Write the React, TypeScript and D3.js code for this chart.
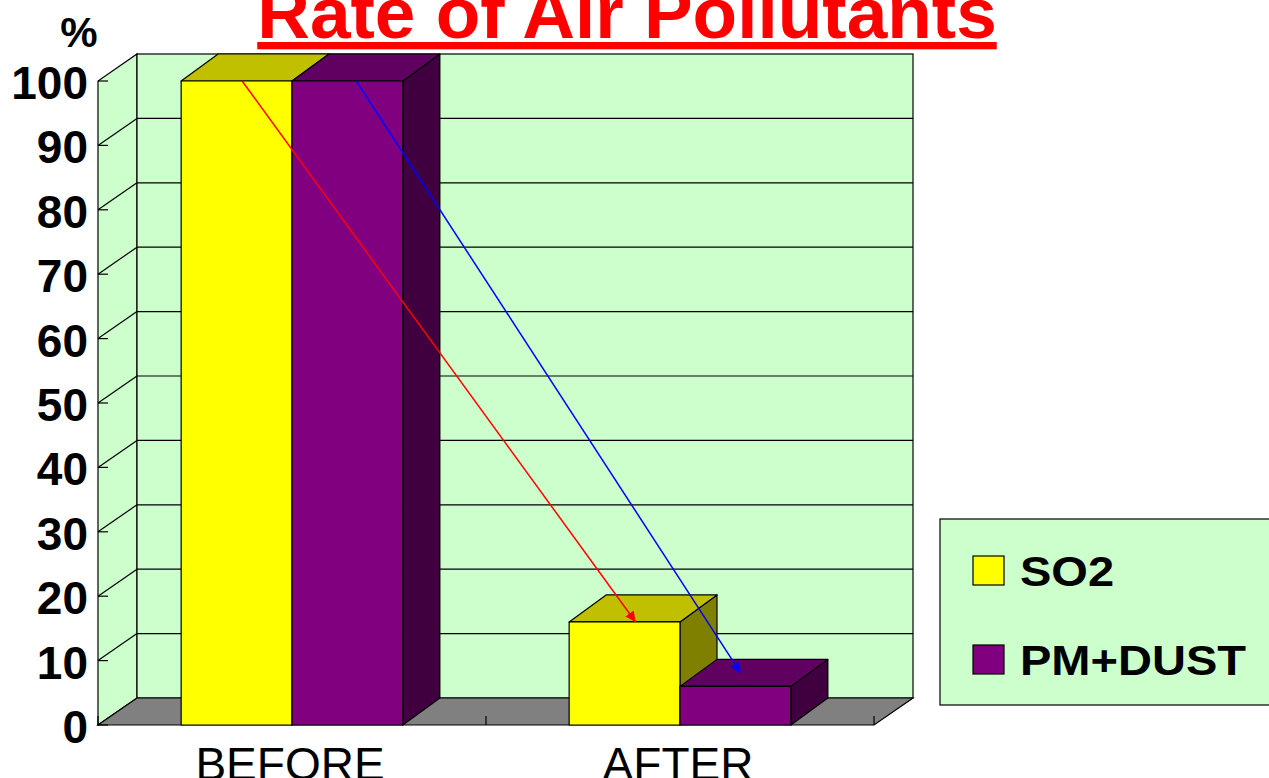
import { useEffect, useRef } from 'react'
import * as d3 from 'd3'

const categories = ['BEFORE', 'AFTER']
const seriesNames = ['SO2', 'PM+DUST']
const so2Values = [100, 16]
const dustValues = [100, 6]
const yTicks = [0, 10, 20, 30, 40, 50, 60, 70, 80, 90, 100]

const FRONT = { SO2: '#FFFF00', 'PM+DUST': '#800080' }
const TOP = { SO2: '#C0C000', 'PM+DUST': '#600060' }
const SIDE = { SO2: '#808000', 'PM+DUST': '#400040' }
const FONT = '"Liberation Sans", Arial, sans-serif'

function App() {
  const ref = useRef<SVGSVGElement | null>(null)

  useEffect(() => {
    const el = ref.current
    if (!el) return
    const svg = d3.select(el)
    svg.selectAll('*').remove()

    const left = 98
    const right = 874
    // depth of the walls and of the bars
    const wdx = 39
    const wdy = -27
    const bdx = 37
    const bdy = -27

    const x = d3.scaleBand().domain(categories).range([left, right]).padding(0)
    const xs = d3
      .scaleBand()
      .domain(seriesNames)
      .range([0, x.bandwidth()])
      .paddingInner(0)
      .paddingOuter(0.75)
    const y = d3.scaleLinear().domain([0, 100]).range([725, 81])
    const y0 = y(0)

    const defs = svg.append('defs')
    ;[
      ['arrRed', '#FF0000'],
      ['arrBlue', '#0000FF'],
    ].forEach(([id, c]) => {
      defs
        .append('marker')
        .attr('id', id)
        .attr('viewBox', '0 0 10 10')
        .attr('refX', 10)
        .attr('refY', 5)
        .attr('markerWidth', 7)
        .attr('markerHeight', 7)
        .attr('markerUnits', 'strokeWidth')
        .attr('orient', 'auto')
        .append('path')
        .attr('d', 'M0,0 L10,5 L0,10 Z')
        .attr('fill', c)
    })

    const pts = (p: number[][]) => p.map((d) => d.join(',')).join(' ')

    // left side wall
    svg
      .append('polygon')
      .attr('points', pts([[left, y0], [left, y(100)], [left + wdx, y(100) + wdy], [left + wdx, y0 + wdy]]))
      .attr('fill', '#CCFFCC')
      .attr('stroke', '#000')
      .attr('stroke-width', 1.2)

    // back wall
    svg
      .append('rect')
      .attr('x', left + wdx)
      .attr('y', y(100) + wdy)
      .attr('width', right - left)
      .attr('height', y0 - y(100))
      .attr('fill', '#CCFFCC')
      .attr('stroke', '#000')
      .attr('stroke-width', 1.2)

    // floor
    svg
      .append('polygon')
      .attr('points', pts([[left, y0], [right, y0], [right + wdx, y0 + wdy], [left + wdx, y0 + wdy]]))
      .attr('fill', '#808080')
      .attr('stroke', '#000')
      .attr('stroke-width', 1.2)

    // gridlines on the walls
    const grid = svg.append('g').attr('stroke', '#000').attr('stroke-width', 1.2)
    yTicks.slice(1, -1).forEach((t) => {
      grid
        .append('line')
        .attr('x1', left + wdx)
        .attr('x2', right + wdx)
        .attr('y1', y(t) + wdy)
        .attr('y2', y(t) + wdy)
      grid
        .append('line')
        .attr('x1', left)
        .attr('x2', left + wdx)
        .attr('y1', y(t))
        .attr('y2', y(t) + wdy)
    })

    // y axis ticks + labels
    const yAxis = svg.append('g')
    yTicks.forEach((t) => {
      yAxis
        .append('line')
        .attr('x1', left)
        .attr('x2', left + 10)
        .attr('y1', y(t))
        .attr('y2', y(t))
        .attr('stroke', '#000')
        .attr('stroke-width', 1.2)
      yAxis
        .append('text')
        .attr('x', left - 10)
        .attr('y', y(t) + 18)
        .attr('text-anchor', 'end')
        .attr('font-family', FONT)
        .attr('font-weight', 'bold')
        .attr('font-size', 46)
        .attr('fill', '#000')
        .text(t)
    })

    // category ticks on floor front edge
    ;[left, x('AFTER') as number, right].forEach((tx) => {
      svg
        .append('line')
        .attr('x1', tx)
        .attr('x2', tx)
        .attr('y1', y0)
        .attr('y2', y0 - 9)
        .attr('stroke', '#000')
        .attr('stroke-width', 1.2)
    })

    // bars
    const rows = categories.flatMap((c, i) => [
      { cat: c, s: 'SO2', v: so2Values[i] },
      { cat: c, s: 'PM+DUST', v: dustValues[i] },
    ])
    const bars = svg.append('g').attr('stroke', '#000').attr('stroke-width', 1.2).attr('stroke-linejoin', 'round')
    rows.forEach((d) => {
      const x0 = (x(d.cat) as number) + (xs(d.s) as number)
      const x1 = x0 + xs.bandwidth()
      const yv = y(d.v)
      bars
        .append('polygon')
        .attr('points', pts([[x1, yv], [x1 + bdx, yv + bdy], [x1 + bdx, y0 + bdy], [x1, y0]]))
        .attr('fill', SIDE[d.s])
      bars
        .append('polygon')
        .attr('points', pts([[x0, yv], [x0 + bdx, yv + bdy], [x1 + bdx, yv + bdy], [x1, yv]]))
        .attr('fill', TOP[d.s])
      bars
        .append('rect')
        .attr('x', x0)
        .attr('y', yv)
        .attr('width', x1 - x0)
        .attr('height', y0 - yv)
        .attr('fill', FRONT[d.s])
    })

    // arrows from before to after
    const arrows = [
      { s: 'SO2', id: 'arrRed', color: '#FF0000', from: 0.55, to: 0.6, depth: 0 },
      { s: 'PM+DUST', id: 'arrBlue', color: '#0000FF', from: 0.58, to: 0.38, depth: 0.5 },
    ]
    arrows.forEach((a) => {
      const vals = a.s === 'SO2' ? so2Values : dustValues
      const bx = (x('BEFORE') as number) + (xs(a.s) as number) + a.from * xs.bandwidth()
      const ax = (x('AFTER') as number) + (xs(a.s) as number) + a.to * xs.bandwidth() + a.depth * bdx
      svg
        .append('line')
        .attr('x1', bx)
        .attr('y1', y(vals[0]))
        .attr('x2', ax)
        .attr('y2', y(vals[1]) + a.depth * bdy)
        .attr('stroke', a.color)
        .attr('stroke-width', 1.5)
        .attr('marker-end', `url(#${a.id})`)
    })

    // category labels (cut by the bottom edge, as in the original)
    categories.forEach((c) => {
      svg
        .append('text')
        .attr('x', (x(c) as number) + x.bandwidth() / 2 - 2)
        .attr('y', 780)
        .attr('text-anchor', 'middle')
        .attr('font-family', FONT)
        .attr('font-size', 46)
        .attr('fill', '#000')
        .text(c)
    })

    // title and unit
    svg
      .append('text')
      .attr('x', 627)
      .attr('y', 38)
      .attr('text-anchor', 'middle')
      .attr('font-family', FONT)
      .attr('font-weight', 'bold')
      .attr('font-size', 73)
      .attr('fill', '#FF0000')
      .attr('text-decoration', 'underline')
      .text('Rate of Air Pollutants')

    svg
      .append('text')
      .attr('x', 79)
      .attr('y', 47)
      .attr('text-anchor', 'middle')
      .attr('font-family', FONT)
      .attr('font-weight', 'bold')
      .attr('font-size', 42)
      .attr('fill', '#000')
      .text('%')

    // legend
    const lg = svg.append('g').attr('transform', 'translate(940,519)')
    lg.append('rect')
      .attr('width', 340)
      .attr('height', 186)
      .attr('fill', '#CCFFCC')
      .attr('stroke', '#000')
      .attr('stroke-width', 1.2)
    seriesNames.forEach((s, i) => {
      const cy = 52 + i * 89
      lg.append('rect')
        .attr('x', 33)
        .attr('y', cy - 15)
        .attr('width', 31)
        .attr('height', 29)
        .attr('fill', FRONT[s])
        .attr('stroke', '#000')
        .attr('stroke-width', 1.2)
      lg.append('text')
        .attr('x', 80)
        .attr('y', cy + 15)
        .attr('font-family', FONT)
        .attr('font-weight', 'bold')
        .attr('font-size', 42)
        .attr('fill', '#000')
        .attr('transform', `translate(80,0) scale(1.12,1) translate(-80,0)`)
        .text(s)
    })
  }, [])

  return (
    <svg
      ref={ref}
      width={1269}
      height={778}
      style={{ position: 'absolute', left: 0, top: 0, background: '#fff' }}
    />
  )
}

export default App
